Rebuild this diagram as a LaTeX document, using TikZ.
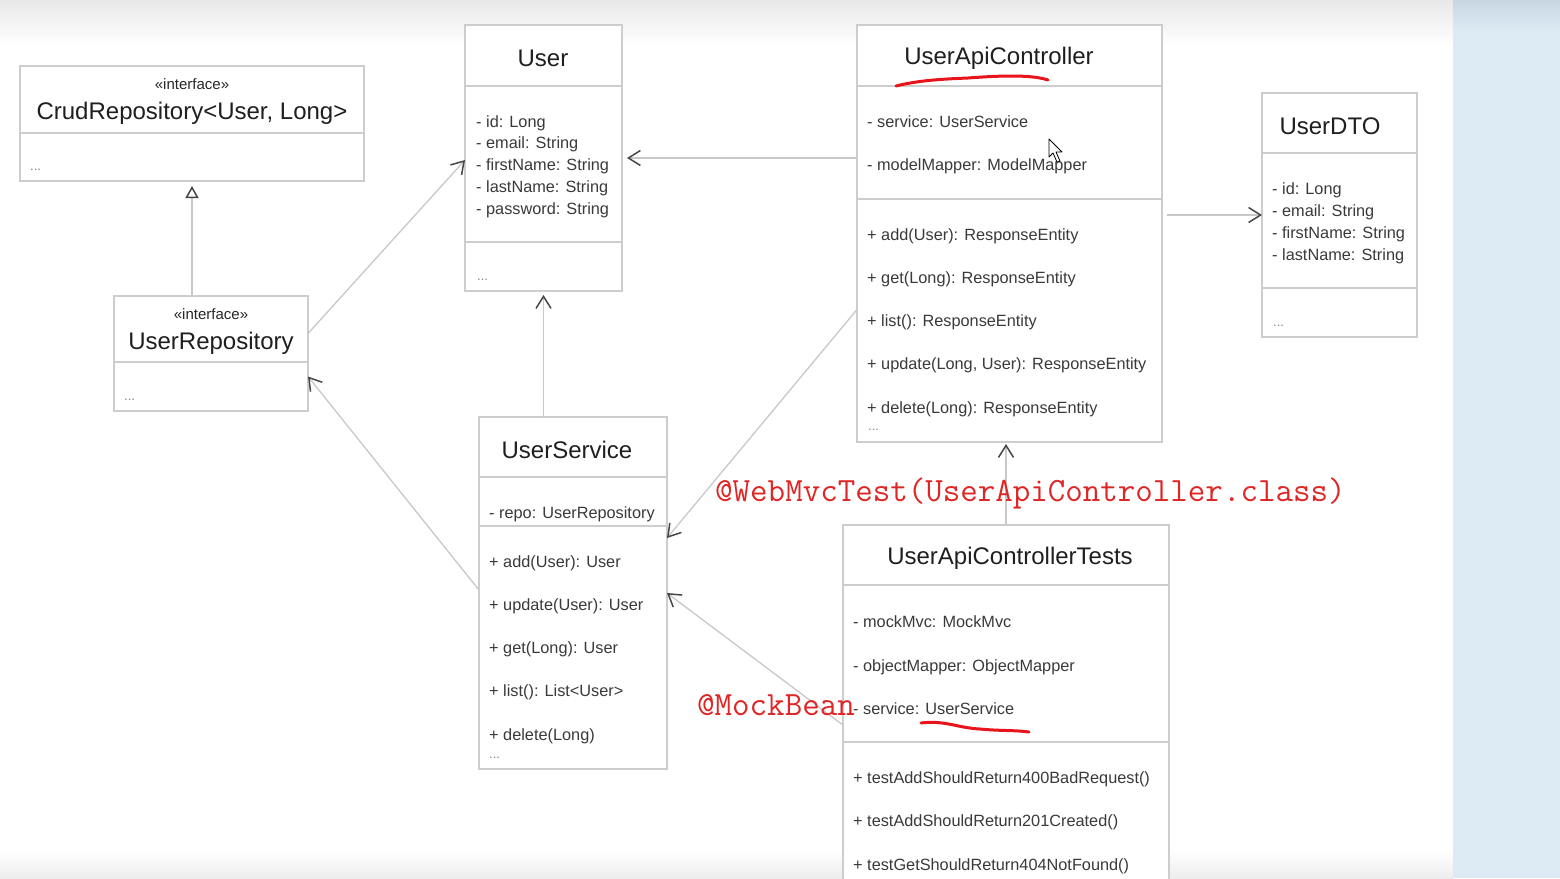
\documentclass[tikz,border=0pt]{standalone}
\usepackage{fontspec}
\setmainfont{Liberation Sans}
\usepackage{xcolor}
\usepackage{tikz}
\usetikzlibrary{arrows.meta}

\definecolor{boxgray}{RGB}{205,205,205}
\definecolor{linegray}{RGB}{200,200,200}
\definecolor{headgray}{RGB}{70,70,70}
\definecolor{textgray}{RGB}{58,58,58}
\definecolor{notered}{RGB}{222,38,38}
\definecolor{penred}{RGB}{232,20,26}
\definecolor{stripblue}{RGB}{220,234,244}
\definecolor{striptop}{RGB}{200,214,226}

\tikzset{
	classbox/.style={draw=boxgray, line width=1.5pt, fill=white, anchor=north west, inner sep=0pt, outer sep=0pt},
	divider/.style={draw=boxgray, line width=1.5pt},
	title/.style={inner sep=0pt, yshift=-2pt, text=black!88, font=\fontsize{24}{28}\selectfont},
	stereo/.style={inner sep=0pt, yshift=-1pt, text=black!85, font=\fontsize{15}{18}\selectfont},
	member/.style={inner sep=0pt, yshift=-2pt, anchor=west, align=left, text=textgray},
	dots/.style={inner sep=0pt, anchor=west, text=black!50, font=\fontsize{13}{14}\selectfont},
	dep/.style={draw=linegray, line width=1.3pt, -{Straight Barb[length=12pt, width=15pt, line width=1.5pt, color=headgray]}},
	gen/.style={draw=linegray, line width=1.3pt, -{Triangle[open, length=12pt, width=13pt, line width=1.5pt, color=headgray]}},
	note/.style={inner sep=0pt, anchor=west, text=notered, font=\ttfamily\fontsize{34}{36}\selectfont},
	redline/.style={draw=penred, line width=3pt, line cap=round},
}

\begin{document}
\begin{tikzpicture}[x=1pt, y=-1pt]
	\useasboundingbox (0,0) rectangle (1560,878);
	\begin{scope}
		\clip (0,0) rectangle (1560,878);

		% screen background
		\shade[top color=black!9, bottom color=white] (0,0) rectangle (1453,45);
		\shade[top color=white, bottom color=black!7] (0,850) rectangle (1453,878);
		\fill[stripblue] (1453,0) rectangle (1560,878);
		\shade[top color=striptop, bottom color=stripblue] (1453,0) rectangle (1560,30);

		% class boxes
		\node[classbox, minimum width=344pt, minimum height=115pt] (crud) at (20,66) {};
		\node[classbox, minimum width=194pt, minimum height=115pt] (urepo) at (114,296) {};
		\node[classbox, minimum width=157pt, minimum height=266pt] (user) at (465,25) {};
		\node[classbox, minimum width=305pt, minimum height=417pt] (ctrl) at (857,25) {};
		\node[classbox, minimum width=155pt, minimum height=244pt] (dto) at (1262,93) {};
		\node[classbox, minimum width=188pt, minimum height=352pt] (svc) at (479,417) {};
		\node[classbox, minimum width=326pt, minimum height=380pt] (tests) at (843,525) {};

		% compartments
		\draw[divider] (crud.west |- 0,133) -- (crud.east |- 0,133);
		\draw[divider] (urepo.west |- 0,362) -- (urepo.east |- 0,362);
		\draw[divider] (user.west |- 0,86) -- (user.east |- 0,86);
		\draw[divider] (user.west |- 0,242) -- (user.east |- 0,242);
		\draw[divider] (ctrl.west |- 0,86) -- (ctrl.east |- 0,86);
		\draw[divider] (ctrl.west |- 0,199) -- (ctrl.east |- 0,199);
		\draw[divider] (dto.west |- 0,153) -- (dto.east |- 0,153);
		\draw[divider] (dto.west |- 0,288) -- (dto.east |- 0,288);
		\draw[divider] (svc.west |- 0,477) -- (svc.east |- 0,477);
		\draw[divider] (svc.west |- 0,526) -- (svc.east |- 0,526);
		\draw[divider] (tests.west |- 0,585) -- (tests.east |- 0,585);
		\draw[divider] (tests.west |- 0,742) -- (tests.east |- 0,742);

		% CrudRepository
		\node[stereo] (crudst) at (192,83) {«interface»};
		\node[title] (crudname) at (192,111) {CrudRepository<User, Long>};
		\node[dots] (crudmore) at (30,170) {...};

		% UserRepository
		\node[stereo] (urepost) at (211,313) {«interface»};
		\node[title] (urepname) at (211,341) {UserRepository};
		\node[dots] (urepmore) at (124,400) {...};

		% User
		\node[title] (username) at (543,56) {User};
		\node[member, font=\fontsize{16.3}{21.75}\selectfont] (userattr) at (476,164.5)
			{- id: Long\\- email: String\\- firstName: String\\- lastName: String\\- password: String};
		\node[dots] (usermore) at (477,280) {...};

		% UserApiController
		\node[title] (ctrlname) at (999,56) {UserApiController};
		\node[member, font=\fontsize{16.3}{43}\selectfont] (ctrlattr) at (867,142.5)
			{- service: UserService\\- modelMapper: ModelMapper};
		\node[member, font=\fontsize{16.3}{43.25}\selectfont] (ctrlops) at (867,320.5)
			{+ add(User): ResponseEntity\\+ get(Long): ResponseEntity\\+ list(): ResponseEntity\\+ update(Long, User): ResponseEntity\\+ delete(Long): ResponseEntity};
		\node[dots] (ctrlmore) at (868,430) {...};

		% UserDTO
		\node[title] (dtoname) at (1330,124) {UserDTO};
		\node[member, font=\fontsize{16.3}{22}\selectfont] (dtoattr) at (1272,221)
			{- id: Long\\- email: String\\- firstName: String\\- lastName: String};
		\node[dots] (dtomore) at (1273,326) {...};

		% UserService
		\node[title] (svcname) at (567,448) {UserService};
		\node[member, font=\fontsize{16.3}{20}\selectfont] (svcattr) at (489,512) {- repo: UserRepository};
		\node[member, font=\fontsize{16.3}{43.25}\selectfont] (svcops) at (489,647.5)
			{+ add(User): User\\+ update(User): User\\+ get(Long): User\\+ list(): List<User>\\+ delete(Long)};
		\node[dots] (svcmore) at (489,758) {...};

		% UserApiControllerTests
		\node[title] (testsname) at (1010,556) {UserApiControllerTests};
		\node[member, font=\fontsize{16.3}{43.5}\selectfont] (testsattr) at (853,663.5)
			{- mockMvc: MockMvc\\- objectMapper: ObjectMapper\\- service: UserService};
		\node[member, font=\fontsize{16.3}{43.5}\selectfont] (testsops) at (853,820.5)
			{+ testAddShouldReturn400BadRequest()\\+ testAddShouldReturn201Created()\\+ testGetShouldReturn404NotFound()};

		% relations
		\draw[gen, shorten >=5pt] (urepo.north -| crud.south) -- (crud.south);
		\draw[dep] ([yshift=20pt]urepo.east) -- ([yshift=-2pt]user.west);
		\draw[dep, shorten >=5pt] (ctrl.west |- user.west) -- (user.east);
		\draw[dep, shorten >=4pt] (svc.north -| user.south) -- (user.south);
		\draw[dep, shorten <=5pt] (ctrl.east |- dto.west) -- (dto.west);
		\draw[dep] ([yshift=-76pt]ctrl.west) -- ([yshift=55pt]svc.east);
		\draw[dep] ([yshift=3pt]svc.west) -- ([yshift=-23pt]urepo.east);
		\draw[dep, shorten >=2pt] (tests.north) -- (tests.north |- ctrl.south);
		\draw[dep] ([yshift=-10pt]tests.west) -- (svc.east);

		% annotations in red
		\node[note] (webmvc) at (715,493) {@WebMvcTest(UserApiController.class)};
		\node[note] (mockbean) at (697,705) {@MockBean};
		\draw[redline] (896,86) .. controls (920,80) and (945,79) .. (968,78) .. controls (995,76) and (1030,74) .. (1048,80);
		\draw[redline] (921,723) .. controls (945,720) and (958,728) .. (980,729) .. controls (1000,731) and (1015,730) .. (1029,732);

		% mouse pointer
		\draw[fill=white, line width=0.8pt, line join=round] (1049,139) -- (1049,157) -- (1053,153) -- (1057,162) -- (1060,161) -- (1056,152) -- (1062,152) -- cycle;
	\end{scope}
\end{tikzpicture}
\end{document}
